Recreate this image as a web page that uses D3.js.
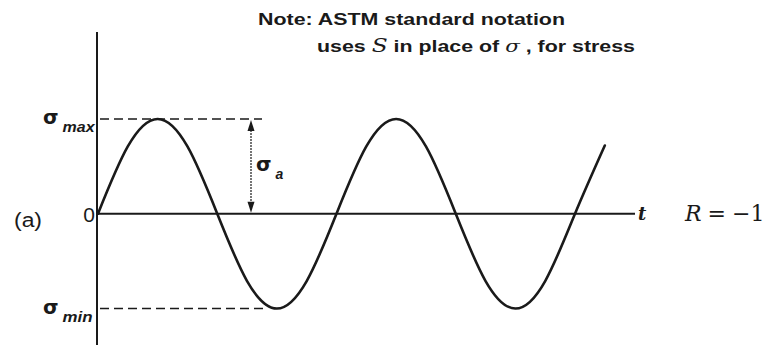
<!DOCTYPE html>
<html>
<head>
<meta charset="utf-8">
<script src="https://cdn.jsdelivr.net/npm/d3@7"></script>
<style>
  html, body { margin: 0; padding: 0; background: #fff; }
  svg { display: block; }
</style>
</head>
<body>
<svg id="chart" width="775" height="345"></svg>
<script>
// Fully reversed stress cycle: time in cycles, stress as a fraction of sigma_max
const cycleTime = [0, 0.125, 0.25, 0.375, 0.5, 0.625, 0.75, 0.875,
                   1, 1.125, 1.25, 1.375, 1.5, 1.625, 1.75, 1.875, 2, 2.125];
const stressLevel = [0, 0.71, 1, 0.71, 0, -0.71, -1, -0.71,
                     0, 0.71, 1, 0.71, 0, -0.71, -1, -0.71, 0, 0.72];
const stressLevels = { max: 1, zero: 0, min: -1 };
const stressRatio = "−1";
const noteLines = ["Note: ASTM standard notation", "uses S in place of σ , for stress"];

const svg = d3.select("#chart");
const ink = "#1a1a1a";

const x = d3.scaleLinear().domain([0, 1]).range([98, 336.5]);
const y = d3.scaleLinear().domain([-1, 1]).range([308.5, 119]);

// axes
svg.append("line")
  .attr("x1", 97).attr("x2", 97).attr("y1", 32).attr("y2", 345)
  .attr("stroke", ink).attr("stroke-width", 2);
svg.append("line")
  .attr("x1", 97).attr("x2", 635)
  .attr("y1", y(stressLevels.zero)).attr("y2", y(stressLevels.zero))
  .attr("stroke", ink).attr("stroke-width", 2.2);

// dashed reference levels
svg.append("line")
  .attr("x1", 100).attr("x2", 262)
  .attr("y1", y(stressLevels.max)).attr("y2", y(stressLevels.max))
  .attr("stroke", ink).attr("stroke-width", 1.6).attr("stroke-dasharray", "9,5");
svg.append("line")
  .attr("x1", 100).attr("x2", 264)
  .attr("y1", y(stressLevels.min)).attr("y2", y(stressLevels.min))
  .attr("stroke", ink).attr("stroke-width", 1.6).attr("stroke-dasharray", "9,5");

// amplitude arrow
const ax = 251;
svg.append("line")
  .attr("x1", ax).attr("x2", ax)
  .attr("y1", y(stressLevels.max) + 8).attr("y2", y(stressLevels.zero) - 8)
  .attr("stroke", ink).attr("stroke-width", 1.2).attr("stroke-dasharray", "2,1");
const yTop = y(stressLevels.max), yZero = y(stressLevels.zero);
svg.append("path")
  .attr("d", `M${ax},${yTop + 1} L${ax - 3.5},${yTop + 12} L${ax + 3.5},${yTop + 12} Z`)
  .attr("fill", ink);
svg.append("path")
  .attr("d", `M${ax},${yZero - 1} L${ax - 3.5},${yZero - 12} L${ax + 3.5},${yZero - 12} Z`)
  .attr("fill", ink);

// stress curve
const pts = cycleTime.map((t, i) => [t, stressLevel[i]]);
svg.append("path")
  .datum(pts)
  .attr("d", d3.line().x(d => x(d[0])).y(d => y(d[1])).curve(d3.curveNatural))
  .attr("fill", "none").attr("stroke", ink).attr("stroke-width", 2.6)
  .attr("stroke-linecap", "round");

// labels
const sig = (gx, gy, sub, subLen) => {
  const t = svg.append("text").attr("x", gx).attr("y", gy).attr("fill", ink);
  t.append("tspan").attr("font-family", "DejaVu Sans").attr("font-weight", "bold")
    .attr("font-size", 20).text("σ");
  const s = t.append("tspan").attr("font-family", "Liberation Sans")
    .attr("font-style", "italic").attr("font-weight", "bold")
    .attr("font-size", 14).attr("dx", 4).attr("dy", 8).text(sub);
  if (subLen) s.attr("textLength", subLen).attr("lengthAdjust", "spacingAndGlyphs");
};
sig(43, y(stressLevels.max) + 5, "max", 32);
sig(43, y(stressLevels.min) + 5, "min", 30);
sig(256, 171, "a");

svg.append("text").attr("x", 95).attr("y", y(stressLevels.zero) + 8)
  .attr("text-anchor", "end").attr("font-family", "Liberation Sans")
  .attr("font-size", 21).attr("fill", ink).text("0");
svg.append("text").attr("x", 14).attr("y", 227)
  .attr("font-family", "Liberation Sans").attr("font-size", 20)
  .attr("textLength", 28).attr("lengthAdjust", "spacingAndGlyphs")
  .attr("fill", ink).text("(a)");
svg.append("text").attr("x", 638).attr("y", 220)
  .attr("font-family", "DejaVu Serif").attr("font-style", "italic").attr("font-weight", "bold")
  .attr("font-size", 18).attr("fill", ink).text("t");

const rt = svg.append("text").attr("x", 685).attr("y", 221)
  .attr("font-family", "DejaVu Serif").attr("font-size", 22).attr("fill", ink);
rt.append("tspan").attr("font-style", "italic").text("R");
rt.append("tspan").attr("dx", 6).text("=");
rt.append("tspan").attr("dx", 6).text(stressRatio);

// note
svg.append("text").attr("x", 258).attr("y", 25)
  .attr("font-family", "Liberation Sans").attr("font-weight", "bold")
  .attr("font-size", 16).attr("fill", ink)
  .attr("textLength", 307).attr("lengthAdjust", "spacingAndGlyphs")
  .text(noteLines[0]);
const n2 = svg.append("text").attr("x", 317).attr("y", 52)
  .attr("font-family", "Liberation Sans").attr("font-weight", "bold")
  .attr("font-size", 16.5).attr("fill", ink)
  .attr("textLength", 318).attr("lengthAdjust", "spacingAndGlyphs");
n2.append("tspan").text("uses ");
n2.append("tspan").attr("font-family", "DejaVu Serif").attr("font-style", "italic")
  .attr("font-weight", "normal").attr("font-size", 18).text("S");
n2.append("tspan").text(" in place of ");
n2.append("tspan").attr("font-family", "DejaVu Serif").attr("font-style", "italic")
  .attr("font-weight", "normal").text("σ");
n2.append("tspan").text(" , for stress");
</script>
</body>
</html>
